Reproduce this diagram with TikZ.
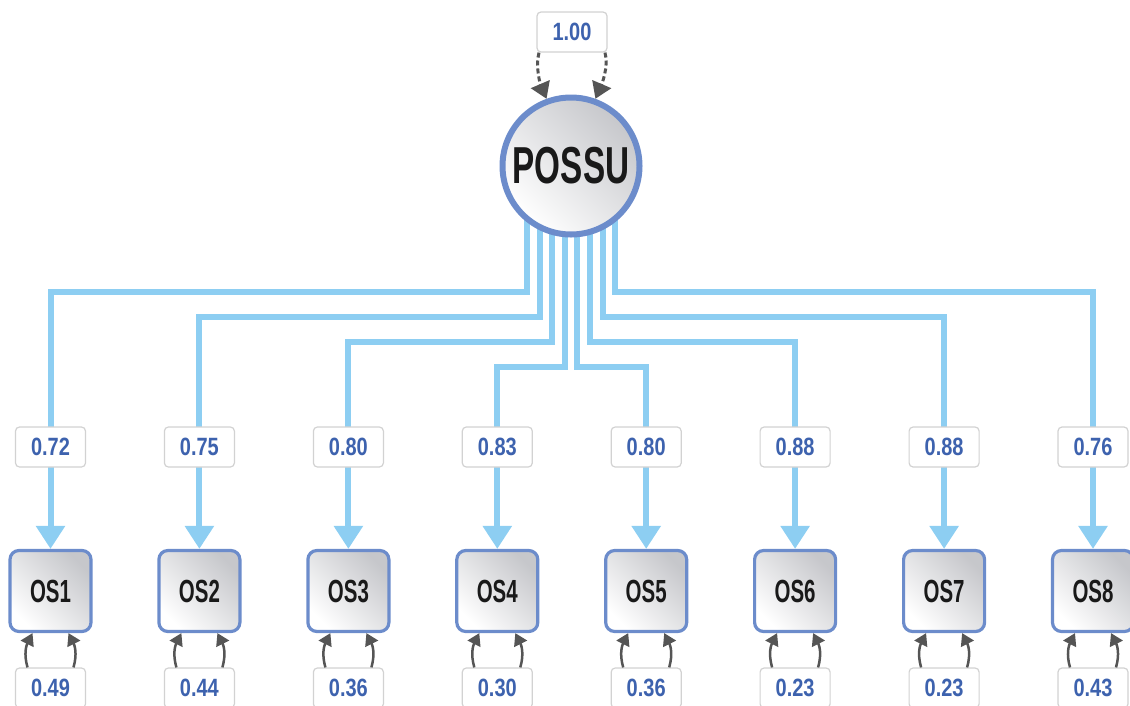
\documentclass[tikz,border=0pt]{standalone}
\usepackage{fontspec}
\newfontfamily\condA[FakeStretch=0.64]{Liberation Sans}
\newfontfamily\condB[FakeStretch=0.8]{Liberation Sans}
\usetikzlibrary{arrows.meta,calc}
\definecolor{ringblue}{HTML}{6C8CCB}
\definecolor{connblue}{HTML}{8DCEF2}
\definecolor{numblue}{HTML}{3D62AE}
\definecolor{lblgray}{HTML}{D2D2D2}
\definecolor{arrgray}{HTML}{555555}
\definecolor{shadegray}{HTML}{C6C7CB}
\pgfdeclarelayer{bg}
\pgfsetlayers{bg,main}
\tikzset{
  possustyle/.style={circle, draw=ringblue, line width=6pt, minimum size=137pt, inner sep=0pt,
    top color=shadegray, bottom color=white, shading angle=-45,
    font=\condA\bfseries\fontsize{52}{52}\selectfont, text=black!90},
  osbox/.style={rectangle, rounded corners=9pt, draw=ringblue, line width=3.2pt,
    minimum width=81pt, minimum height=81pt, inner sep=0pt,
    top color=shadegray, bottom color=white, shading angle=-45,
    font=\condA\bfseries\fontsize{32}{32}\selectfont, text=black!90},
  lbl/.style={rectangle, draw=lblgray, line width=1.2pt, fill=white, rounded corners=4pt,
    minimum width=70pt, minimum height=40pt, inner sep=0pt, text=numblue,
    font=\condB\bfseries\fontsize{25}{25}\selectfont},
  conn/.style={draw=connblue, line width=6pt, line join=miter,
    -{Triangle[width=28pt,length=23pt]}},
  selfarr/.style={draw=arrgray, line width=2.5pt, -{Triangle[width=14pt,length=12pt]}},
  dasharr/.style={draw=arrgray, line width=3pt, dash pattern=on 5pt off 3pt,
    -{Triangle[width=20pt,length=16pt]}}
}
\begin{document}
\begin{tikzpicture}[x=1pt,y=-1pt]
\useasboundingbox (0,0) rectangle (1130,705);
\node[possustyle] (possu) at (571,166) {POSSU};
\node[lbl] (top) at (572,32) {1.00};
\draw[dasharr] ($(top.south)+(-33,0)$) .. controls +(-4,14) and +(-6,-14) .. (possu.110);
\draw[dasharr] ($(top.south)+(33,0)$) .. controls +(4,14) and +(6,-14) .. (possu.70);
\foreach \i/\x/\dx/\lev/\ta/\tb in {
  1/50.5/-44.1/292/0.72/0.49,
  2/199.4/-31.5/317/0.75/0.44,
  3/348.4/-18.9/342/0.80/0.36,
  4/497.3/-6.3/367/0.83/0.30,
  5/646.2/6.3/367/0.80/0.36,
  6/795.1/18.9/342/0.88/0.23,
  7/944.1/31.5/317/0.88/0.23,
  8/1093.0/44.1/292/0.76/0.43}{
  \node[osbox] (os\i) at (\x,591) {OS\i};
  \coordinate (s\i) at ($(possu.center)+(\dx,30)$);
  \begin{pgfonlayer}{bg}
    \draw[conn] (s\i) -- (s\i |- 0,\lev) -| (os\i.north);
  \end{pgfonlayer}
  \node[lbl] (a\i) at (\x,447) {\ta};
  \node[lbl] (b\i) at (\x,688) {\tb};
  \draw[selfarr] ($(b\i.north)+(-23,0)$) .. controls +(-4,-14) and +(-6,12) .. ($(os\i.south)+(-18,0)$);
  \draw[selfarr] ($(b\i.north)+(23,0)$) .. controls +(4,-14) and +(6,12) .. ($(os\i.south)+(18,0)$);
}
\end{tikzpicture}
\end{document}
